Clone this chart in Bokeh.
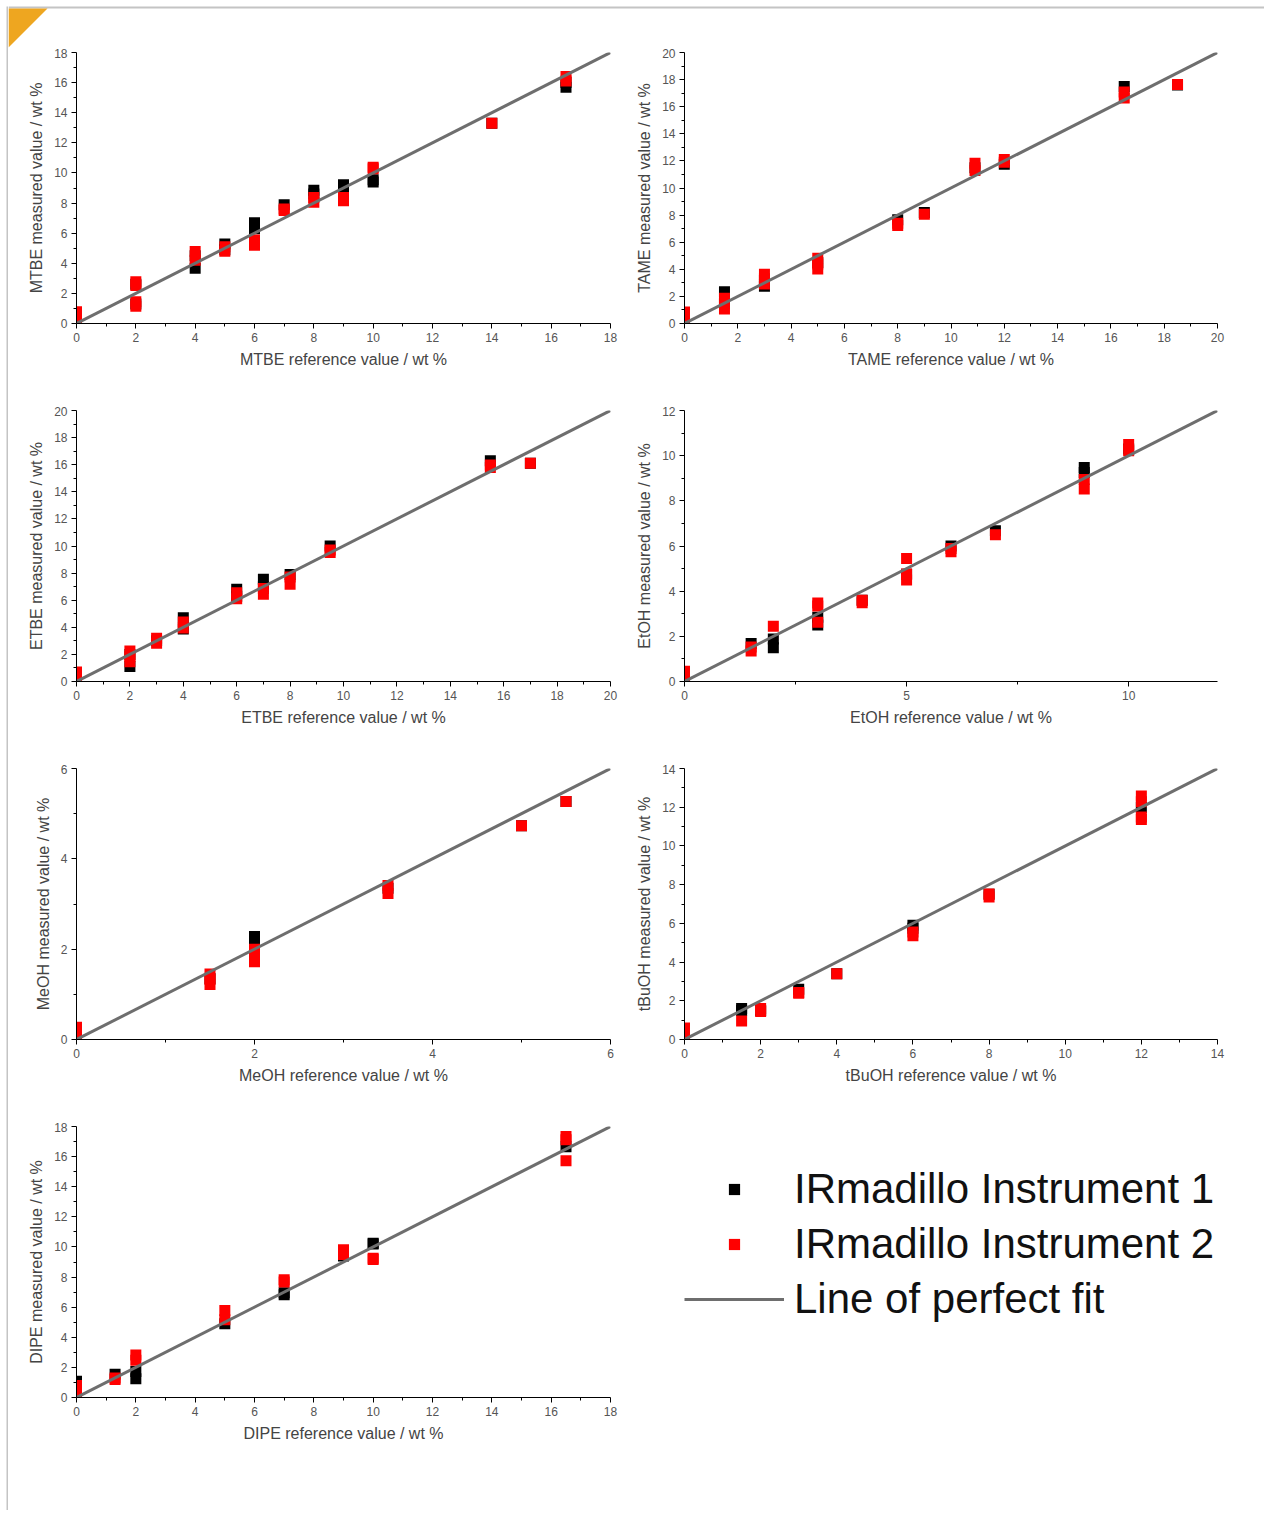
from bokeh.plotting import figure
from bokeh.layouts import row, column
from bokeh.models import Range1d, FixedTicker, Legend, LegendItem
from bokeh.embed import file_html
from bokeh.resources import INLINE

FONT = "Liberation Sans"

# ---------------- data (reference value, measured value) ----------------
# MTBE
mtbe_ref_1 = [0, 2, 2, 4, 4, 5, 5, 6, 6, 7, 8, 8, 9, 9, 10, 10, 14, 16.5, 16.5]
mtbe_meas_1 = [0.5, 2.6, 1.3, 3.67, 4.5, 5.28, 4.9, 6.7, 6.3, 7.88, 8.85, 8.6, 9.22, 9.0, 9.55, 9.4, 13.3, 15.7, 16.0]
mtbe_ref_2 = [0, 0, 2, 2, 2, 2, 4, 4, 5, 5, 6, 6, 7, 7, 8, 8, 9, 9, 10, 10, 14, 16.5, 16.5]
mtbe_meas_2 = [0.78, 0.3, 2.78, 2.52, 1.45, 1.15, 4.78, 4.2, 5.1, 4.8, 5.55, 5.2, 7.6, 7.5, 8.37, 8.05, 8.37, 8.15, 10.37, 10.28, 13.3, 16.41, 16.1]

# TAME
tame_ref_1 = [0, 1.5, 1.5, 3, 3, 5, 8, 9, 10.9, 12, 16.5, 18.5]
tame_meas_1 = [0.5, 2.35, 1.5, 2.75, 3.2, 4.5, 7.65, 8.2, 11.5, 11.75, 17.5, 17.6]
tame_ref_2 = [0, 0, 1.5, 1.5, 1.5, 3, 3, 3, 5, 5, 5, 8, 8, 9, 10.9, 10.9, 12, 12, 16.5, 16.5, 18.5]
tame_meas_2 = [0.85, 0.4, 1.86, 1.45, 1.07, 3.63, 3.3, 2.92, 4.81, 4.4, 4.03, 7.39, 7.23, 8.07, 11.83, 11.3, 12.1, 11.9, 17.08, 16.64, 17.63]

# ETBE
etbe_ref_1 = [0, 2, 2, 3, 4, 4, 6, 6, 7, 7, 8, 9.5, 15.5, 17]
etbe_meas_1 = [0.5, 1.1, 2.0, 3.0, 4.7, 3.88, 6.8, 6.3, 7.55, 7.0, 7.9, 10.0, 16.3, 16.1]
etbe_ref_2 = [0, 0, 2, 2, 2, 3, 3, 4, 4, 6, 6, 7, 7, 8, 8, 9.5, 9.5, 15.5, 15.5, 17]
etbe_meas_2 = [0.7, 0.3, 2.25, 1.85, 1.45, 3.2, 2.82, 4.4, 3.95, 6.55, 6.1, 6.87, 6.43, 7.72, 7.18, 9.7, 9.52, 15.97, 15.8, 16.1]

# EtOH
etoh_ref_1 = [0, 1.5, 2, 2, 3, 3, 4, 5, 6, 7, 9, 9, 10]
etoh_meas_1 = [0.3, 1.68, 1.88, 1.5, 2.85, 2.5, 3.6, 4.75, 6.0, 6.68, 9.48, 9.25, 10.3]
etoh_ref_2 = [0, 0, 1.5, 1.5, 2, 3, 3, 3, 4, 4, 5, 5, 5, 6, 6, 7, 9, 9, 10, 10]
etoh_meas_2 = [0.45, 0.2, 1.53, 1.35, 2.45, 3.48, 3.34, 2.62, 3.6, 3.49, 5.45, 4.76, 4.5, 5.89, 5.75, 6.5, 8.95, 8.52, 10.5, 10.22]

# MeOH
meoh_ref_1 = [0, 1.5, 2, 2, 3.5, 5, 5.5]
meoh_meas_1 = [0.2, 1.35, 2.28, 2.2, 3.35, 4.73, 5.27]
meoh_ref_2 = [0, 0, 1.5, 1.5, 1.5, 2, 2, 2, 3.5, 3.5, 5, 5.5]
meoh_meas_2 = [0.27, 0.12, 1.45, 1.33, 1.22, 2.0, 1.85, 1.72, 3.41, 3.23, 4.73, 5.27]

# tBuOH
tbuoh_ref_1 = [0, 1.5, 1.5, 2, 3, 4, 6, 6, 8, 12]
tbuoh_meas_1 = [0.4, 1.6, 1.5, 1.5, 2.6, 3.4, 5.9, 5.75, 7.5, 11.98]
tbuoh_ref_2 = [0, 0, 1.5, 2, 2, 3, 3, 4, 6, 6, 8, 8, 12, 12, 12, 12]
tbuoh_meas_2 = [0.6, 0.3, 0.95, 1.6, 1.45, 2.43, 2.39, 3.4, 5.55, 5.36, 7.52, 7.36, 12.58, 12.28, 11.49, 11.36]

# DIPE
dipe_ref_1 = [0, 1.3, 2, 2, 5, 7, 7, 9, 10, 10, 16.5]
dipe_meas_1 = [1.08, 1.55, 1.73, 1.25, 4.9, 6.95, 6.83, 9.4, 10.25, 10.2, 16.66]
dipe_ref_2 = [0, 0, 1.3, 1.3, 2, 2, 5, 5, 7, 7, 9, 9, 10, 10, 16.5, 16.5, 16.5]
dipe_meas_2 = [0.8, 0.35, 1.3, 1.2, 2.83, 2.47, 5.78, 5.17, 7.82, 7.67, 9.81, 9.5, 9.25, 9.17, 17.33, 17.12, 15.73]

# axis limits and ticks
mtbe_max, tame_max, etbe_max, etoh_max, meoh_max, tbuoh_max, dipe_max = 18, 20, 20, 12, 6, 14, 18
ticks_18 = [0, 2, 4, 6, 8, 10, 12, 14, 16, 18]
minor_18 = [1, 3, 5, 7, 9, 11, 13, 15, 17]
ticks_20 = [0, 2, 4, 6, 8, 10, 12, 14, 16, 18, 20]
minor_20 = [1, 3, 5, 7, 9, 11, 13, 15, 17, 19]
ticks_12 = [0, 2, 4, 6, 8, 10, 12]
minor_12 = [1, 3, 5, 7, 9, 11]
etoh_xticks = [0, 5, 10]
etoh_xminor = [2.5, 7.5]
ticks_6 = [0, 2, 4, 6]
minor_6 = [1, 3, 5]
ticks_14 = [0, 2, 4, 6, 8, 10, 12, 14]
minor_14 = [1, 3, 5, 7, 9, 11, 13]

legend_labels = ["IRmadillo Instrument 1", "IRmadillo Instrument 2", "Line of perfect fit"]

FIT_COLOR = "#6e6e6e"
BORDER = "#c4c4c4"


def style_axis(ax, ticks, minor, label):
    ax.ticker = FixedTicker(ticks=ticks, minor_ticks=minor)
    ax.axis_label = label
    ax.axis_line_color = "black"
    ax.axis_line_width = 1
    ax.major_tick_in = 0
    ax.major_tick_out = 5
    ax.minor_tick_in = 0
    ax.minor_tick_out = 3
    ax.major_tick_line_color = "black"
    ax.minor_tick_line_color = "black"
    ax.major_label_text_font = FONT
    ax.major_label_text_font_size = "12px"
    ax.major_label_text_color = "#555555"
    ax.major_label_standoff = 4
    ax.axis_label_text_font = FONT
    ax.axis_label_text_font_size = "16px"
    ax.axis_label_text_font_style = "normal"
    ax.axis_label_text_color = "#444444"
    ax.axis_label_standoff = 6


def make_panel(name, vmax, xt, xm, yt, ym, r1, m1, r2, m2, left_col):
    if left_col:
        bl, br = 68, 22
    else:
        bl, br = 52, 39
    p = figure(width=624, height=358, x_range=Range1d(0, vmax), y_range=Range1d(0, vmax),
               output_backend="svg", toolbar_location=None, tools="",
               min_border_left=bl, min_border_right=br, min_border_top=4, min_border_bottom=83)
    p.grid.visible = False
    p.outline_line_color = None
    p.background_fill_color = "white"
    p.border_fill_color = "white"
    style_axis(p.xaxis[0], xt, xm, f"{name} reference value / wt %")
    style_axis(p.yaxis[0], yt, ym, f"{name} measured value / wt %")
    p.scatter(x=r1, y=m1, marker="square", size=11, fill_color="black", line_color=None)
    p.scatter(x=r2, y=m2, marker="square", size=11, fill_color="#ff0000", line_color=None)
    p.line(x=[0, vmax], y=[0, vmax], line_color=FIT_COLOR, line_width=3)
    return p


p1 = make_panel("MTBE", mtbe_max, ticks_18, minor_18, ticks_18, minor_18,
                mtbe_ref_1, mtbe_meas_1, mtbe_ref_2, mtbe_meas_2, True)
p2 = make_panel("TAME", tame_max, ticks_20, minor_20, ticks_20, minor_20,
                tame_ref_1, tame_meas_1, tame_ref_2, tame_meas_2, False)
p3 = make_panel("ETBE", etbe_max, ticks_20, minor_20, ticks_20, minor_20,
                etbe_ref_1, etbe_meas_1, etbe_ref_2, etbe_meas_2, True)
p4 = make_panel("EtOH", etoh_max, etoh_xticks, etoh_xminor, ticks_12, minor_12,
                etoh_ref_1, etoh_meas_1, etoh_ref_2, etoh_meas_2, False)
p5 = make_panel("MeOH", meoh_max, ticks_6, minor_6, ticks_6, minor_6,
                meoh_ref_1, meoh_meas_1, meoh_ref_2, meoh_meas_2, True)
p6 = make_panel("tBuOH", tbuoh_max, ticks_14, minor_14, ticks_14, minor_14,
                tbuoh_ref_1, tbuoh_meas_1, tbuoh_ref_2, tbuoh_meas_2, False)
p7 = make_panel("DIPE", dipe_max, ticks_18, minor_18, ticks_18, minor_18,
                dipe_ref_1, dipe_meas_1, dipe_ref_2, dipe_meas_2, True)

# ---------------- legend panel ----------------
leg = figure(width=624, height=358, x_range=Range1d(0, 1), y_range=Range1d(0, 1),
             output_backend="svg", toolbar_location=None, tools="",
             x_axis_location=None, y_axis_location=None, min_border=0)
leg.grid.visible = False
leg.outline_line_color = None
ra = leg.scatter(x=[-5], y=[-5], marker="square", size=11, fill_color="black", line_color=None)
rb = leg.scatter(x=[-5], y=[-5], marker="square", size=11, fill_color="#ff0000", line_color=None)
rc = leg.line(x=[-5, -4], y=[-5, -5], line_color=FIT_COLOR, line_width=3)
legend = Legend(items=[LegendItem(label=legend_labels[0], renderers=[ra]),
                       LegendItem(label=legend_labels[1], renderers=[rb]),
                       LegendItem(label=legend_labels[2], renderers=[rc])],
                location=(52, 74), glyph_width=100, glyph_height=28,
                label_text_font=FONT, label_text_font_size="42px", label_text_color="#111111",
                label_standoff=10, spacing=7, padding=0, margin=0,
                border_line_color=None, background_fill_alpha=0)
leg.add_layout(legend)

# ---------------- page decorations ----------------
top = figure(width=1256, height=48, x_range=Range1d(0, 1256), y_range=Range1d(48, 0),
             output_backend="svg", toolbar_location=None, tools="",
             x_axis_location=None, y_axis_location=None, min_border=0)
top.grid.visible = False
top.outline_line_color = None
top.quad(left=[0], right=[1256], top=[6], bottom=[8], fill_color=BORDER, line_color=None)
top.patch(x=[0, 39, 0], y=[8, 8, 47], fill_color="#eea620", line_color=None)

left = figure(width=8, height=1510, x_range=Range1d(0, 8), y_range=Range1d(1510, 0),
              output_backend="svg", toolbar_location=None, tools="",
              x_axis_location=None, y_axis_location=None, min_border=0)
left.grid.visible = False
left.outline_line_color = None
left.quad(left=[6], right=[8], top=[6], bottom=[1510], fill_color=BORDER, line_color=None)

layout = row(left, column(top, row(p1, p2), row(p3, p4), row(p5, p6), row(p7, leg)))

open("out.html", "w").write(file_html(layout, INLINE, title="IRmadillo"))
